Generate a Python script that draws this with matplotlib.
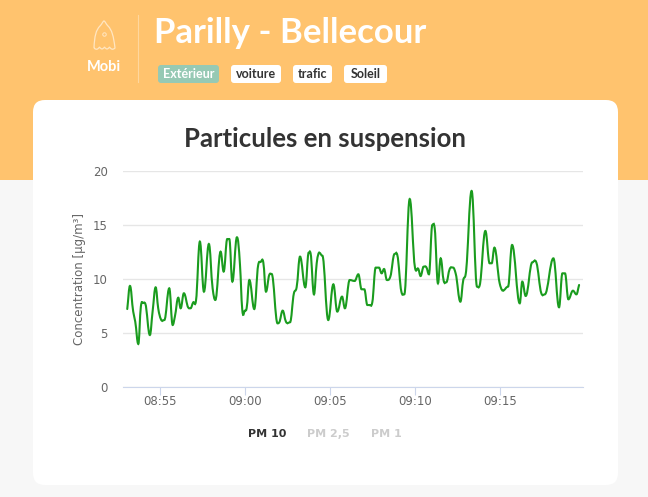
import numpy as np
from matplotlib import pyplot as plt
from matplotlib.patches import FancyBboxPatch, PathPatch, Rectangle
from matplotlib.path import Path

plt.rcParams['font.family'] = ['Lato', 'DejaVu Sans']

# minutes after 08:55
minutes = [-1.94, -1.78, -1.59, -1.47, -1.29, -1.14, -1.00, -0.88, -0.61, -0.45, -0.27, -0.12, 0.04, 0.24,
           0.53, 0.73, 0.86, 1.06, 1.20, 1.39, 1.65, 1.78, 1.94, 2.10, 2.33, 2.57, 2.86, 3.08, 3.24, 3.55,
           3.73, 3.94, 4.06, 4.24, 4.51, 4.69, 4.82, 4.98, 5.08, 5.24, 5.53, 5.76, 5.90, 6.06, 6.22, 6.41,
           6.55, 6.90, 7.00, 7.20, 7.39, 7.63, 7.86, 8.02, 8.22, 8.53, 8.73, 8.84, 9.04, 9.20, 9.53, 9.88,
           10.18, 10.41, 10.69, 10.86, 11.14, 11.43, 11.65, 11.84, 12.00, 12.18, 12.31, 12.47, 12.67, 12.86,
           13.02, 13.16, 13.33, 13.53, 13.78, 13.94, 14.18, 14.35, 14.67, 14.98, 15.18, 15.31, 15.49, 15.65,
           15.80, 16.00, 16.14, 16.33, 16.49, 16.67, 16.82, 17.02, 17.22, 17.37, 17.65, 17.82, 17.96, 18.31,
           18.63, 18.78, 19.12, 19.37, 19.49, 19.65, 19.96, 20.45, 20.69, 21.14, 21.29, 21.49, 21.88, 22.12,
           22.41, 22.61, 23.12, 23.45, 23.65, 23.80, 24.00, 24.27, 24.47, 24.63]
pm10 = [7.23, 9.37, 6.99, 6.06, 3.99, 7.45, 7.79, 7.73, 4.82, 6.99, 9.24, 7.30, 6.28, 6.21,
        9.15, 5.75, 6.52, 8.28, 7.30, 8.69, 7.36, 7.30, 7.85, 7.98, 13.48, 8.84, 13.26, 9.15, 8.07, 12.55,
        10.70, 13.72, 13.72, 9.77, 13.88, 11.31, 7.23, 7.08, 7.30, 9.92, 7.23, 11.31, 11.59, 11.56, 8.84, 10.39,
        10.48, 5.90, 6.00, 7.08, 6.06, 6.00, 8.69, 9.24, 12.09, 9.24, 12.46, 12.40, 8.59, 11.47, 12.18, 6.21,
        9.52, 6.99, 8.38, 7.30, 9.92, 9.83, 10.45, 9.06, 9.06, 7.60, 7.60, 7.85, 11.07, 11.07,
        10.54, 10.94, 9.92, 10.23, 12.33, 12.24, 8.84, 8.59, 17.43, 11.07, 10.94, 10.29, 11.16, 11.10,
        10.45, 15.02, 14.71, 9.61, 11.93, 9.83, 9.71, 10.94, 11.07, 10.54, 7.91, 9.92, 10.45, 18.18,
        9.30, 9.40, 14.47, 11.47, 11.47, 12.92, 9.61, 9.30, 13.17, 7.76, 9.77, 8.44, 11.56, 11.53,
        8.69, 8.59, 11.93, 7.39, 10.54, 10.54, 8.13, 8.93, 8.59, 9.46]

tick_minutes = [0, 5, 10, 15, 20]
tick_labels = ['08:55', '09:00', '09:05', '09:10', '09:15']
y_ticks = [0, 5, 10, 15, 20]
legend_names = ['PM 10', 'PM 2,5', 'PM 1']
chips = ['Extérieur', 'voiture', 'trafic', 'Soleil']

ORANGE = '#FFC36E'
DARK = '#333333'


def spline_path(xs, ys):
    # smooth line through the points, flat at every peak and dip
    xs = np.array(xs)
    ys = np.array(ys)
    slopes = np.gradient(ys, xs)
    for i in range(1, len(ys) - 1):
        if (ys[i] - ys[i - 1]) * (ys[i + 1] - ys[i]) <= 0:
            slopes[i] = 0
    verts = [(xs[0], ys[0])]
    codes = [Path.MOVETO]
    for i in range(len(xs) - 1):
        dx = (xs[i + 1] - xs[i]) / 2.5
        verts.append((xs[i] + dx, ys[i] + slopes[i] * dx))
        verts.append((xs[i + 1] - dx, ys[i + 1] - slopes[i + 1] * dx))
        verts.append((xs[i + 1], ys[i + 1]))
        codes += [Path.CURVE4, Path.CURVE4, Path.CURVE4]
    return Path(verts, codes)


fig = plt.figure(figsize=(6.48, 4.97), dpi=100, facecolor='#F7F7F7')

# page background, in pixels
bg = fig.add_axes([0, 0, 1, 1], zorder=0)
bg.set_xlim(0, 648)
bg.set_ylim(497, 0)
bg.axis('off')
bg.add_patch(Rectangle((0, 0), 648, 180, fc=ORANGE, ec='none'))
bg.add_patch(FancyBboxPatch((43, 110), 565, 365, boxstyle='round,pad=10,rounding_size=12',
                            fc='white', ec='none'))

# ghost icon
ghost = Path([(94, 48), (94.5, 36), (96, 30), (100, 26), (102, 24), (103, 21), (104, 21),
              (105, 21), (106, 24), (108, 26), (112, 30), (113.5, 36), (115, 48),
              (112, 51), (109.5, 47), (107, 51), (104.5, 47), (102, 51), (99.5, 47), (97, 51), (94, 48)],
             [Path.MOVETO, Path.CURVE4, Path.CURVE4, Path.CURVE4, Path.CURVE4, Path.CURVE4, Path.CURVE4,
              Path.CURVE4, Path.CURVE4, Path.CURVE4, Path.CURVE4, Path.CURVE4, Path.CURVE4,
              Path.CURVE3, Path.CURVE3, Path.CURVE3, Path.CURVE3, Path.CURVE3, Path.CURVE3, Path.CURVE3,
              Path.CURVE3])
bg.add_patch(PathPatch(ghost, fc='none', ec='#FFE6C2', lw=0.9))
bg.plot([104], [34], marker='o', ms=2.5, mfc='none', mec='#FFE6C2', mew=0.7)
bg.text(104, 67, 'Mobi', color='white', fontsize=10.5, fontweight='bold', ha='center', va='center')
bg.plot([137.5, 137.5], [15, 82], color='#FFD79E', lw=0.8)
bg.text(154, 33, 'Parilly - Bellecour', color='white', fontsize=25, fontweight='bold',
        ha='left', va='center')

chip_x = [(158, 219), (231, 281), (293, 332), (344, 387)]
for name, (x0, x1) in zip(chips, chip_x):
    first = name == chips[0]
    bg.add_patch(FancyBboxPatch((x0 + 3, 68), x1 - x0 - 6, 12, boxstyle='round,pad=3,rounding_size=3',
                                fc='#96C9B4' if first else 'white', ec='none'))
    bg.text((x0 + x1) / 2, 74, name, color='white' if first else DARK, fontsize=9,
            fontweight='bold', ha='center', va='center')

bg.text(325, 139, 'Particules en suspension', color=DARK, fontsize=18.5, fontweight='bold',
        ha='center', va='center')

# legend
for name, x, col in zip(legend_names, [267, 328, 386], [DARK, '#CCCCCC', '#CCCCCC']):
    bg.text(x, 434, name, color=col, fontsize=8, fontweight='bold', family='DejaVu Sans',
            ha='center', va='center')

# chart
ax = fig.add_axes([123 / 648, 1 - 387 / 497, 460 / 648, 215.7 / 497], zorder=1)
ax.patch.set_alpha(0)
ax.add_patch(PathPatch(spline_path(minutes, pm10), fc='none', ec='#1A9C1E', lw=1.5, capstyle='round'))
ax.set_xlim(-2.19, 24.86)
ax.set_ylim(0, 20)
ax.set_xticks(tick_minutes)
ax.set_xticklabels(tick_labels)
ax.set_yticks(y_ticks)
ax.grid(axis='y', color='#E6E6E6', lw=1)
ax.set_axisbelow(True)
for side in ['top', 'left', 'right']:
    ax.spines[side].set_visible(False)
ax.spines['bottom'].set_color('#CCD6EB')
ax.tick_params(axis='x', length=5.5, color='#CCD6EB', labelcolor='#666666', labelsize=8.5, pad=0)
ax.tick_params(axis='y', length=0, labelcolor='#666666', labelsize=8.5, pad=11)
for lab in ax.get_xticklabels() + ax.get_yticklabels():
    lab.set_family('DejaVu Sans')
ax.set_ylabel('Concentration [µg/m³]', color='#666666', fontsize=8.5, family='DejaVu Sans', labelpad=5)

fig.savefig('out.png', dpi=100)
